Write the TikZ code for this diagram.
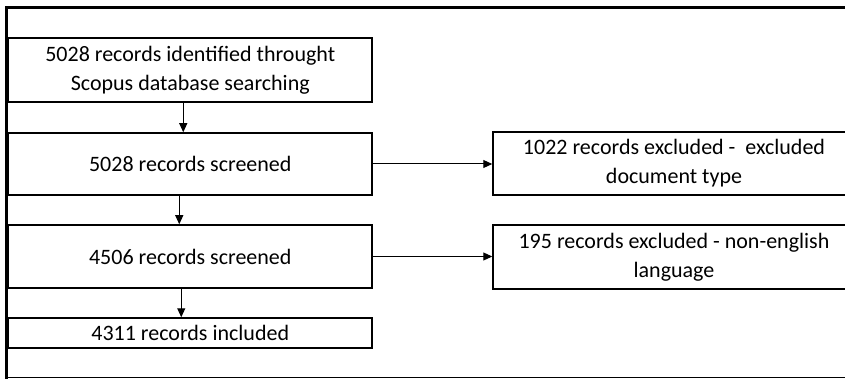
\documentclass[tikz,border=0pt]{standalone}
\usepackage{fontspec}
\setmainfont{Carlito}
\usetikzlibrary{arrows.meta}
\tikzset{
  flowbox/.style={draw=black, line width=1.5pt, rectangle, inner sep=0pt,
    align=center, font=\fontsize{22}{29}\selectfont, text=black},
  flowarrow/.style={draw=black, line width=1pt, -{Triangle[length=9pt,width=8pt]}},
}
\begin{document}
\begin{tikzpicture}[x=1pt,y=-1pt]
  \useasboundingbox (0,0) rectangle (845,379);
  \clip (0,0) rectangle (845,379);
  \fill[white] (0,0) rectangle (845,379);

  % outer frame (open on the right)
  \draw[line width=3.5pt] (845,7.5) -- (6.5,7.5) -- (6.5,379);
  \draw[line width=1.5pt] (6.5,377.5) -- (845,377.5);

  % main column
  \node[flowbox, minimum width=363.5pt, minimum height=64pt] (ident) at (190.25,70)
    {5028 records identified throught\\Scopus database searching};
  \node[flowbox, minimum width=363.5pt, minimum height=62pt] (scrA) at (190.25,164)
    {5028 records screened};
  \node[flowbox, minimum width=363.5pt, minimum height=63pt] (scrB) at (190.25,256.5)
    {4506 records screened};
  \node[flowbox, minimum width=363.5pt, minimum height=30pt] (incl) at (190.25,333)
    {4311 records included};

  % exclusion boxes
  \node[flowbox, minimum width=362pt, minimum height=63pt] (exA) at (674,163.5)
    {1022 records excluded -\ \ excluded\\document type};
  \node[flowbox, minimum width=362pt, minimum height=64pt] (exB) at (674,257)
    {195 records excluded - non-english\\language};

  % connectors
  \draw[flowarrow] ([xshift=-7pt]ident.south) -- ([xshift=-7pt]scrA.north);
  \draw[flowarrow] ([xshift=-11pt]scrA.south) -- ([xshift=-11pt]scrB.north);
  \draw[flowarrow] ([xshift=-9pt]scrB.south) -- ([xshift=-9pt]incl.north);
  \draw[flowarrow] (scrA.east) -- (scrA.east -| exA.west);
  \draw[flowarrow] (scrB.east) -- (scrB.east -| exB.west);
\end{tikzpicture}
\end{document}
